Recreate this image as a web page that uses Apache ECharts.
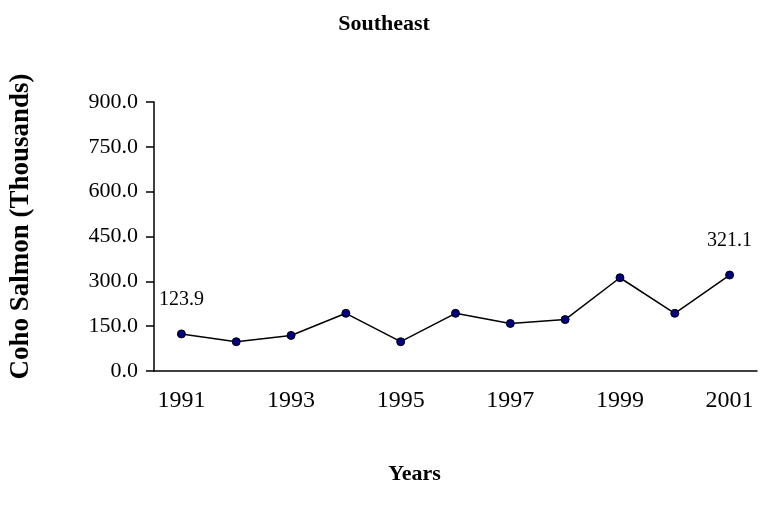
<!DOCTYPE html>
<html>
<head>
<meta charset="utf-8">
<script src="https://cdn.jsdelivr.net/npm/echarts@6/dist/echarts.min.js"></script>
<style>
  html, body { margin: 0; padding: 0; background: #fff; }
  #main { width: 768px; height: 521px; }
</style>
</head>
<body>
<div id="main"></div>
<script>
const years = ['1991', '1992', '1993', '1994', '1995', '1996', '1997', '1998', '1999', '2000', '2001']
const coho = [123.9, 98, 119, 193, 98, 193, 159, 172, 312, 193, 321.1]
// only these points carry a value label
const labelled = ['1991', '2001']

const serif = '"Liberation Serif", "Times New Roman", serif'

const chart = echarts.init(document.getElementById('main'))

const seriesData = coho.map((v, i) => ({
  value: v,
  label: { show: labelled.indexOf(years[i]) >= 0 }
}))

chart.setOption({
  animation: false,
  title: {
    text: 'Southeast',
    left: 'center',
    top: 8,
    textStyle: { fontFamily: serif, fontWeight: 'bold', fontSize: 22, color: '#000' }
  },
  grid: { left: 154, right: 11, top: 102, bottom: 150 },
  xAxis: {
    type: 'category',
    data: years,
    boundaryGap: true,
    name: 'Years',
    nameLocation: 'middle',
    nameGap: 92,
    nameTextStyle: {
      fontFamily: serif, fontWeight: 'bold', fontSize: 22, color: '#000',
      padding: [0, 82, 0, 0]
    },
    axisLine: { lineStyle: { color: '#000', width: 1.5 } },
    axisTick: { length: 6, lineStyle: { color: '#000', width: 1.5 } },
    axisLabel: { interval: 1, margin: 18, fontFamily: serif, fontSize: 24, color: '#000' }
  },
  yAxis: {
    type: 'value',
    min: 0,
    max: 900,
    interval: 150,
    name: 'Coho Salmon (Thousands)',
    nameLocation: 'middle',
    nameGap: 119,
    nameTextStyle: {
      fontFamily: serif, fontWeight: 'bold', fontSize: 27, color: '#000',
      padding: [0, 0, 0, 20]
    },
    axisLine: { show: true, lineStyle: { color: '#000', width: 1.5 } },
    axisTick: { show: true, length: 8, lineStyle: { color: '#000', width: 1.5 } },
    splitLine: { show: false },
    axisLabel: {
      margin: 16,
      fontFamily: serif,
      fontSize: 22,
      color: '#000',
      formatter: v => v.toFixed(1)
    }
  },
  series: [{
    type: 'line',
    data: seriesData,
    symbol: 'circle',
    symbolSize: 8,
    lineStyle: { color: '#000', width: 1.5 },
    itemStyle: { color: '#000080', borderColor: '#000', borderWidth: 1 },
    label: {
      position: 'top',
      distance: 20,
      fontFamily: serif,
      fontSize: 20,
      color: '#000',
      formatter: p => p.value.toFixed(1)
    }
  }]
})
</script>
</body>
</html>
